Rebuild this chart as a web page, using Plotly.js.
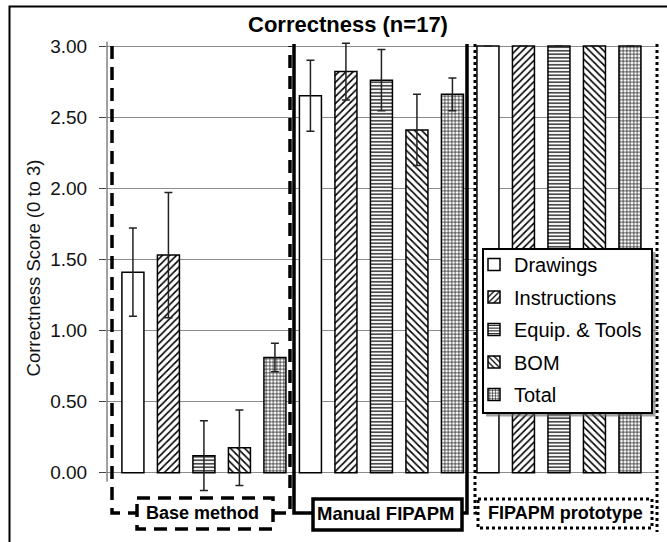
<!DOCTYPE html>
<html>
<head>
<meta charset="utf-8">
<script src="https://cdn.plot.ly/plotly-3.0.1.min.js"></script>
<style>html,body{margin:0;padding:0;background:#fff;}#chart{width:667px;height:542px;}</style>
</head>
<body>
<div id="chart"></div>
<script>
// ---- data ----
const groups = ['Base method', 'Manual FIPAPM', 'FIPAPM prototype'];
const seriesNames = ['Drawings', 'Instructions', 'Equip. & Tools', 'BOM', 'Total'];
const drawings = [1.41, 2.65, 3.00];
const drawingsErr = [0.31, 0.25, null];
const instructions = [1.53, 2.82, 3.00];
const instructionsErr = [0.44, 0.20, null];
const equipTools = [0.12, 2.76, 3.00];
const equipToolsErr = [0.245, 0.215, null];
const bom = [0.175, 2.41, 3.00];
const bomErr = [0.265, 0.25, null];
const total = [0.81, 2.66, 3.00];
const totalErr = [0.10, 0.115, null];
const yTickVals = [0, 0.5, 1, 1.5, 2, 2.5, 3];
const chartTitle = 'Correctness (n=17)';
const yTitle = 'Correctness Score (0 to 3)';

const FONT = 'Arial, "Liberation Sans", sans-serif';
const values = [drawings, instructions, equipTools, bom, total];
const errors = [drawingsErr, instructionsErr, equipToolsErr, bomErr, totalErr];
const patterns = [
  null,
  {shape: '/', size: 5, solidity: 0.32},
  {shape: '-', size: 3.5, solidity: 0.35},
  {shape: '\\', size: 5, solidity: 0.32},
  {shape: '+', size: 3.5, solidity: 0.34}
];

const traces = seriesNames.map((name, i) => {
  const marker = {color: '#ffffff', line: {color: '#000000', width: 1.5}};
  if (patterns[i]) {
    marker.pattern = Object.assign({fgcolor: '#000000', bgcolor: '#ffffff', fillmode: 'replace'}, patterns[i]);
  }
  return {
    type: 'bar',
    name: name,
    legendgroup: 'g' + i,
    x: groups,
    y: values[i],
    marker: marker,
    error_y: {type: 'data', array: errors[i], visible: true, color: '#222222', thickness: 1.5, width: 4},
    hoverinfo: 'none'
  };
});

// pixel -> paper helpers for decorative frame/group brackets
const L = 107, R = 9, T = 42, B = 48, W = 667, H = 542;
const PW = W - L - R, PH = H - T - B;
const xp = px => (px - L) / PW;
const yp = py => (H - B - py) / PH;
function path(pts) {
  return pts.map((p, i) => (i ? 'L' : 'M') + xp(p[0]).toFixed(5) + ',' + yp(p[1]).toFixed(5)).join(' ');
}
function pathShape(pts, line) {
  return {type: 'path', xref: 'paper', yref: 'paper', path: path(pts), line: line, layer: 'above'};
}
function rectShape(x0, y0, x1, y1, line, fill) {
  return {type: 'rect', xref: 'paper', yref: 'paper', x0: xp(x0), x1: xp(x1), y0: yp(y0), y1: yp(y1),
          line: line, fillcolor: fill || 'rgba(0,0,0,0)', layer: 'above'};
}
const dashL = {color: '#000', width: 3.5, dash: '13px,8px'};
const solidL = {color: '#000', width: 3.5};
const dotL = {color: '#000', width: 3, dash: '3px,3px'};

const shapes = [
  // outer frame (top and left)
  pathShape([[9.5, 542], [9.5, 6.5], [667, 6.5]], {color: '#000', width: 2}),
  // y axis line
  pathShape([[107, 41.7], [107, 481.7]], {color: '#444', width: 1}),
  // Base method bracket
  pathShape([[112, 46], [112, 513], [137, 513]], dashL),
  pathShape([[273, 513], [290, 513], [290, 46]], dashL),
  rectShape(137, 498, 273, 529, dashL, '#ffffff'),
  // Manual FIPAPM bracket
  pathShape([[294, 44], [294, 513], [313, 513]], solidL),
  pathShape([[462, 513], [467, 513], [467, 44]], solidL),
  rectShape(313, 499, 462, 530, solidL, '#ffffff'),
  // FIPAPM prototype bracket
  pathShape([[475, 44], [475, 513], [478, 513]], dotL),
  pathShape([[657, 44], [657, 532]], dotL),
  rectShape(478, 499, 652, 528, dotL, '#ffffff'),
  // legend shadow and box
  rectShape(486, 252, 655.5, 416.5, {width: 0}, 'rgba(100,100,100,0.6)'),
  rectShape(483, 249, 652, 413, {color: '#000', width: 2}, '#ffffff')
];

const annotations = [
  {text: '<b>Base method</b>', x: xp(202), y: yp(513), xref: 'paper', yref: 'paper', showarrow: false,
   xanchor: 'center', yanchor: 'middle', font: {family: FONT, size: 18, color: '#000'}},
  {text: '<b>Manual FIPAPM</b>', x: xp(385), y: yp(513), xref: 'paper', yref: 'paper', showarrow: false,
   xanchor: 'center', yanchor: 'middle', font: {family: FONT, size: 18.5, color: '#000'}},
  {text: '<b>FIPAPM prototype</b>', x: xp(565), y: yp(513), xref: 'paper', yref: 'paper', showarrow: false,
   xanchor: 'center', yanchor: 'middle', font: {family: FONT, size: 18, color: '#000'}}
];

const layout = {
  width: W, height: H,
  margin: {l: L, r: R, t: T, b: B, pad: 0},
  paper_bgcolor: '#ffffff', plot_bgcolor: '#ffffff',
  font: {family: FONT, color: '#000'},
  title: {text: '<b>' + chartTitle + '</b>', x: 348 / W, xanchor: 'center', y: 1 - 24.5 / H, yanchor: 'middle',
          font: {family: FONT, size: 22, color: '#000'}},
  barmode: 'group', bargap: 0, bargroupgap: 0.38,
  xaxis: {type: 'category', range: [-0.546, 2.558], showticklabels: false, showgrid: false,
          zeroline: false, showline: false, ticks: '', fixedrange: true},
  yaxis: {range: [-0.1498, 3.0281], tickvals: yTickVals, tickformat: '.2f', showgrid: true,
          gridcolor: '#8c8c8c', gridwidth: 1, zeroline: false, showline: false,
          ticks: 'outside', ticklen: 7, tickcolor: '#444', ticklabelstandoff: 8,
          tickfont: {family: FONT, size: 19, color: '#111'}, automargin: false,
          title: {text: yTitle, font: {family: FONT, size: 18.5, color: '#111'}, standoff: 4}},
  showlegend: true,
  legend: {x: xp(481), y: yp(245), xanchor: 'left', yanchor: 'top', bgcolor: 'rgba(0,0,0,0)',
           borderwidth: 0, font: {family: FONT, size: 20, color: '#000'},
           tracegroupgap: 3.5, traceorder: 'grouped', indentation: -7},
  shapes: shapes,
  annotations: annotations
};

Plotly.newPlot('chart', traces, layout, {staticPlot: true, displayModeBar: false});
</script>
</body>
</html>
